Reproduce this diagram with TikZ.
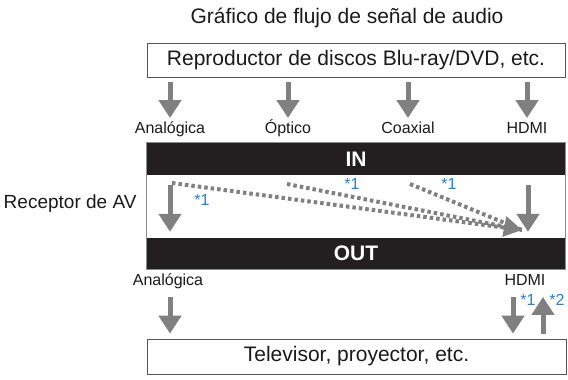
\documentclass[tikz,border=0pt]{standalone}
\usepackage{fontspec}
\setmainfont{Liberation Sans}
\usetikzlibrary{arrows.meta,positioning,calc}
\definecolor{ink}{HTML}{1A1A1A}
\definecolor{barfill}{HTML}{231F20}
\definecolor{flow}{HTML}{808080}
\definecolor{edge}{HTML}{8C8C8C}
\definecolor{note}{HTML}{1E7FE6}
\tikzset{
  fsz/.style={font=\fontsize{#1}{#1}\selectfont},
  dev/.style={draw=ink!75, line width=0.8pt, minimum width=418pt, minimum height=34pt,
    fsz=21, text=ink, inner sep=0pt},
  barbox/.style={fill=barfill, minimum width=418pt, inner sep=0pt,
    font=\fontsize{21}{21}\selectfont\bfseries, text=white},
  port/.style={fsz=16, text=ink, inner sep=0pt, text height=12pt, text depth=3.5pt},
  star/.style={fsz=16, text=note, inner sep=0pt},
  fat/.style={-{Triangle[length=18pt,width=22pt]}, draw=flow, line width=5pt},
  dots/.style={draw=flow, line width=4pt, dash pattern=on 3.5pt off 3pt},
}
\begin{document}
\begin{tikzpicture}[x=1pt, y=-1pt]
  \useasboundingbox (0,0) rectangle (568,380);
  % source
  \node[fsz=21, text=ink] (title) at (347,18) {Gráfico de flujo de señal de audio};
  \node[dev] (player) at (356,60) {Reproductor de discos Blu-ray/DVD, etc.};
  \node[port] (ain) at (170,129) {Analógica};
  \node[port] (opt) at (288,129) {Óptico};
  \node[port] (coax) at (408,129) {Coaxial};
  \node[port] (hin) at (527,129) {HDMI};
  \draw[fat] ($(player.south -| ain)+(0,5)$) -- ($(ain.north)+(0,-3)$);
  \draw[fat] ($(player.south -| opt)+(0,5)$) -- ($(opt.north)+(0,-3)$);
  \draw[fat] ($(player.south -| coax)+(0,5)$) -- ($(coax.north)+(0,-3)$);
  \draw[fat] ($(player.south -| hin)+(0,5)$) -- ($(hin.north)+(0,-3)$);
  % receiver
  \node[barbox, minimum height=32pt] (inbar) at (356,159) {IN};
  \node[barbox, minimum height=31pt] (outbar) at (356,253.5) {OUT};
  \draw[edge, line width=0.8pt] (inbar.north west) rectangle (outbar.south east);
  \node[fsz=19, text=ink, anchor=east] (rx) at (140,204) {Receptor de AV};
  \draw[fat] ($(inbar.south -| ain)+(0,10)$) -- ($(outbar.north -| ain)+(0,-6)$);
  \draw[fat] ($(inbar.south -| hin)+(1,10)$) -- ($(outbar.north -| hin)+(1,-6)$);
  \coordinate (src1) at (172,183);
  \coordinate (src2) at (287,184);
  \coordinate (src3) at (410,184);
  \coordinate (mix) at (522,230);
  \draw[dots] (src1) -- (mix);
  \draw[dots] (src3) -- (mix);
  \draw[dots, -{Triangle[length=18pt,width=20pt]}] (src2) -- (mix);
  \node[star] (s1) at (202,200) {*1};
  \node[star] (s2) at (352,184) {*1};
  \node[star] (s3) at (449,184) {*1};
  % display
  \node[port] (aout) at (168,281) {Analógica};
  \node[port] (hout) at (525,281) {HDMI};
  \node[dev, minimum width=419pt, minimum height=35pt] (tv) at (356.5,356.5) {Televisor, proyector, etc.};
  \draw[fat] ($(aout.south -| ain)+(0,8)$) -- ($(tv.north -| ain)+(0,-5)$);
  \draw[fat] ($(hout.south)+(-12,8)$) -- ($(tv.north -| hout)+(-12,-5)$);
  \draw[fat] ($(tv.north -| hout)+(18,-5)$) -- ($(hout.south)+(18,8)$);
  \node[star] (s4) at (528,300) {*1};
  \node[star] (s5) at (557,300) {*2};
\end{tikzpicture}
\end{document}
